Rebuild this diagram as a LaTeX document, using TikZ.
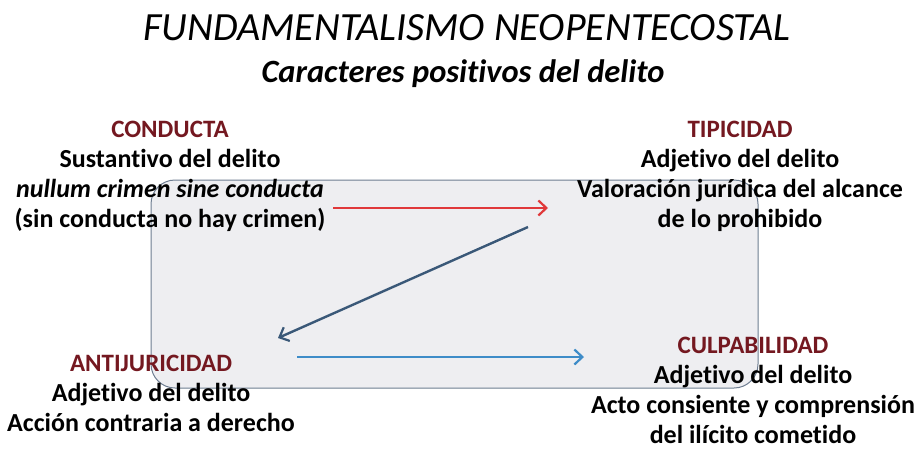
\documentclass[tikz,border=0pt]{standalone}
\usepackage{fontspec}
\setmainfont{Carlito}[Ligatures=NoCommon]
\usetikzlibrary{arrows.meta}
\definecolor{hdr}{HTML}{741820}
\definecolor{boxfill}{HTML}{EEEEF1}
\definecolor{boxline}{HTML}{6E7D91}
\definecolor{redarrow}{HTML}{E0383A}
\definecolor{darkarrow}{HTML}{3A5878}
\definecolor{bluearrow}{HTML}{3E8CC8}
\begin{document}
\begin{tikzpicture}[x=1pt,y=-1pt,
  block/.style={align=center,anchor=base,inner sep=0pt,font=\bfseries\fontsize{26}{30}\selectfont},
  conn/.style={line width=2.4pt,-{Straight Barb[length=8pt,width=15pt,line width=2.2pt]}}]
\useasboundingbox (0,0) rectangle (918,448);
\draw[fill=boxfill,draw=boxline,line width=1pt,rounded corners=24pt] (151,180) rectangle (758,388);
\node[anchor=base,inner sep=0pt,font=\itshape\fontsize{40}{40}\selectfont] (title) at (467,40) {FUNDAMENTALISMO NEOPENTECOSTAL};
\node[anchor=base,inner sep=0pt,font=\bfseries\itshape\fontsize{32.5}{33}\selectfont] (subtitle) at (463,82) {Caracteres positivos del delito};
\node[block] (conducta) at (170,227) {{\color{hdr}\fontsize{25}{30}\selectfont CONDUCTA}\\Sustantivo del delito\\\textit{nullum crimen sine conducta}\\(sin conducta no hay crimen)};
\node[block] (tipicidad) at (740,227) {{\color{hdr}\fontsize{25}{30}\selectfont TIPICIDAD}\\Adjetivo del delito\\Valoración jurídica del alcance\\de lo prohibido};
\node[block] (antijuricidad) at (151,431) {{\color{hdr}\fontsize{25}{30}\selectfont ANTIJURICIDAD}\\Adjetivo del delito\\Acción contraria a derecho};
\node[block] (culpabilidad) at (753,443) {{\color{hdr}\fontsize{25}{29.5}\selectfont CULPABILIDAD}\\Adjetivo del delito\\Acto consiente y comprensión\\del ilícito cometido};
\coordinate (r1) at (333,208);
\coordinate (r2) at (548,208);
\coordinate (d1) at (528,227);
\coordinate (d2) at (278,338);
\coordinate (b1) at (297,357);
\coordinate (b2) at (584,357);
\draw[conn,redarrow] (r1) -- (r2);
\draw[conn,darkarrow] (d1) -- (d2);
\draw[conn,bluearrow] (b1) -- (b2);
\end{tikzpicture}
\end{document}
